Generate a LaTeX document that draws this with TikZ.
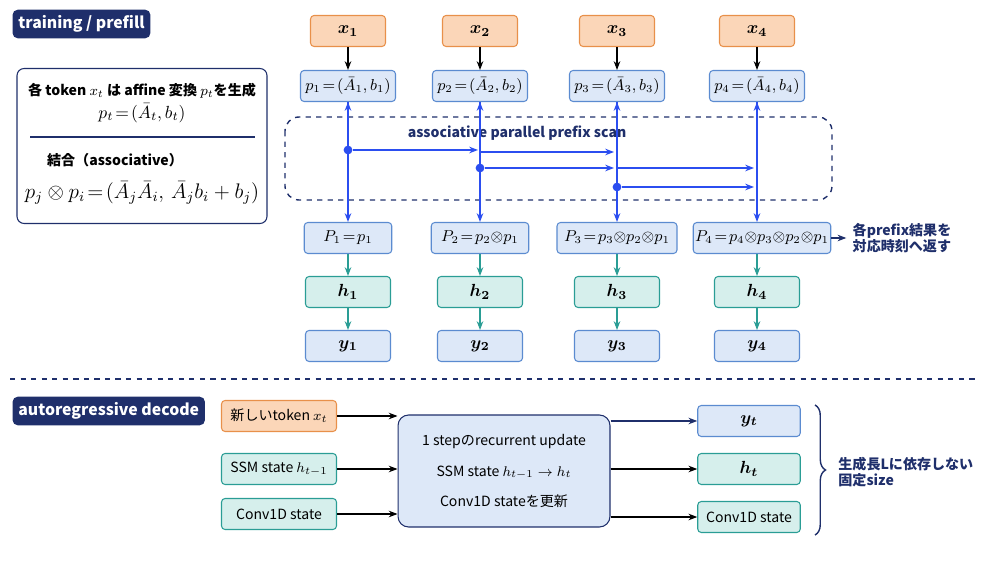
\documentclass[tikz,border=0pt]{standalone}
\usepackage{fontspec}
\usepackage{amsmath,bm}
\setmainfont{Noto Sans CJK JP}
\usetikzlibrary{arrows.meta,decorations.pathreplacing}

\definecolor{navy}{HTML}{1F2F6B}
\definecolor{scanblue}{HTML}{2B4EF0}
\definecolor{boxfill}{HTML}{DDE8F8}
\definecolor{boxline}{HTML}{5B8BD0}
\definecolor{tokfill}{HTML}{FBD6B8}
\definecolor{tokline}{HTML}{E8904A}
\definecolor{hidfill}{HTML}{D6EFEC}
\definecolor{hidline}{HTML}{2A9D95}

\begin{document}
\begin{tikzpicture}[x=0.02cm, y=-0.02cm, >={Stealth[length=5pt]}, semithick,
  tag/.style={fill=navy, rounded corners=3pt, text=white, font=\bfseries\small, anchor=west, minimum height=0.56cm},
  token/.style={draw=tokline, fill=tokfill, rounded corners=2pt, minimum width=1.5cm, minimum height=0.62cm},
  pair/.style={draw=boxline, fill=boxfill, rounded corners=2pt, minimum width=1.9cm, minimum height=0.62cm, font=\small, inner sep=1pt},
  prefixbox/.style={draw=boxline, fill=boxfill, rounded corners=2pt, minimum height=0.62cm, font=\small, inner sep=1pt},
  hidden/.style={draw=hidline, fill=hidfill, rounded corners=2pt, minimum width=1.7cm, minimum height=0.62cm},
  output/.style={draw=boxline, fill=boxfill, rounded corners=2pt, minimum width=1.7cm, minimum height=0.62cm},
  scan/.style={->, draw=scanblue, thick},
  dot/.style={circle, fill=scanblue, inner sep=0pt, minimum size=5pt}]

\useasboundingbox (0,0) rectangle (1000,563);

\node (tagtrain) at (12, 24) [tag] {training / prefill};
\node (tagdecode) at (12, 411) [tag] {autoregressive decode};

% left explanation box
\node (rulebox) at (142, 146) [draw=navy, rounded corners=4pt, minimum width=5.0cm, minimum height=3.1cm] {};
\node (rule1) at (142, 91) [font=\footnotesize\bfseries] {各 token $x_t$ は affine 変換 $p_t$を生成};
\node (rule2) at (142, 113) [font=\normalsize] {$p_t\!=\!(\bar{A}_t, b_t)$};
\draw[navy] (30, 137) -- (255, 137);
\node (rule3) at (115, 160) [font=\footnotesize\bfseries] {結合（associative）};
\node (rule4) at (142, 193) [font=\large] {$p_j \otimes p_i\!=\!(\bar{A}_j\bar{A}_i,\, \bar{A}_j b_i + b_j)$};

% scan region
\draw[navy, dashed, thick, rounded corners=8pt] (285, 117) rectangle (832, 200);
\node (scanlabel) at (517, 133) [text=navy, font=\footnotesize\bfseries] {associative parallel prefix scan};

\foreach \i/\x in {1/348, 2/480, 3/617, 4/757} {
  \node (token\i) at (\x, 31) [token] {$\bm{x_{\i}}$};
  \node (pair\i) at (\x, 86) [pair] {$p_{\i}\!=\!(\bar{A}_{\i}, b_{\i})$};
  \node (hidden\i) at (\x, 292) [hidden] {$\bm{h_{\i}}$};
  \node (out\i) at (\x, 346) [output] {$\bm{y_{\i}}$};
  \path[->, black] (token\i) edge (pair\i);
}

\node (prefix1) at (348, 238) [prefixbox, minimum width=1.75cm] {$P_1\!=\!p_1$};
\node (prefix2) at (480, 238) [prefixbox, minimum width=1.95cm] {$P_2\!=\!p_2{\otimes}p_1$};
\node (prefix3) at (617, 238) [prefixbox, minimum width=2.4cm] {$P_3\!=\!p_3{\otimes}p_2{\otimes}p_1$};
\node (prefix4) at (762, 238) [prefixbox, minimum width=2.75cm] {$P_4\!=\!p_4{\otimes}p_3{\otimes}p_2{\otimes}p_1$};

\foreach \i in {1,2,3,4} {
  \path[scan] (pair\i.south -| token\i) edge (prefix\i.north -| token\i);
  \path[->, hidline] (prefix\i.south -| token\i) edge (hidden\i);
  \path[->, hidline] (hidden\i) edge (out\i);
}

\node (dot1) at (348, 150) [dot] {};
\node (dot2) at (480, 168) [dot] {};
\node (dot3) at (617, 187) [dot] {};
\coordinate (hit12) at (478, 150);
\coordinate (hit13) at (614, 152);
\coordinate (hit23) at (614, 168);
\coordinate (hit24) at (754, 168);
\coordinate (hit34) at (754, 187);
\draw[scan] (dot1) -- (hit12);
\draw[scan] (480, 152) -- (hit13);
\draw[scan] (dot2) -- (hit23);
\draw[scan] (617, 168) -- (hit24);
\draw[scan] (dot3) -- (hit34);

\node (retnote) at (902, 238) [text=navy, font=\footnotesize\bfseries, align=left] {各prefix結果を\\対応時刻へ返す};
\path[->, navy] (prefix4) edge (retnote);

% separator
\draw[navy, dashed] (10, 379) -- (978, 379);

% decode
\node (newtok) at (279, 416) [token, minimum width=2.3cm, font=\footnotesize] {新しいtoken $x_t$};
\node (ssmin) at (279, 469) [hidden, minimum width=2.3cm, font=\footnotesize] {SSM state $h_{t-1}$};
\node (convin) at (279, 514) [hidden, minimum width=2.3cm, font=\footnotesize] {Conv1D state};
\node (update) at (504, 471) [draw=navy, fill=boxfill, rounded corners=6pt, minimum width=4.24cm, minimum height=2.24cm,
  align=center, font=\footnotesize] {1 stepのrecurrent update\\[8pt] SSM state $h_{t-1}\rightarrow h_t$\\[8pt] Conv1D stateを更新};
\node (ynew) at (749, 421) [output, minimum width=2.05cm] {$\bm{y_t}$};
\node (hnew) at (749, 469) [hidden, minimum width=2.05cm] {$\bm{h_t}$};
\node (convout) at (749, 517) [hidden, minimum width=2.05cm, font=\footnotesize] {Conv1D state};

\path[->] (newtok) edge (update.west |- newtok);
\path[->] (ssmin) edge (update.west |- ssmin);
\path[->] (convin) edge (update.west |- convin);
\path[->, navy] (update.east |- ynew) edge (ynew);
\path[->] (update.east |- hnew) edge (hnew);
\path[->] (update.east |- convout) edge (convout);

\coordinate (bracetop) at (815, 405);
\coordinate (bracebot) at (815, 535);
\draw[navy, thick, decorate, decoration={brace, amplitude=6pt}] (bracetop) -- (bracebot);
\node (fixnote) at (832, 472) [anchor=west, text=navy, font=\footnotesize\bfseries, align=left] {生成長Lに依存しない\\固定size};

\end{tikzpicture}
\end{document}
